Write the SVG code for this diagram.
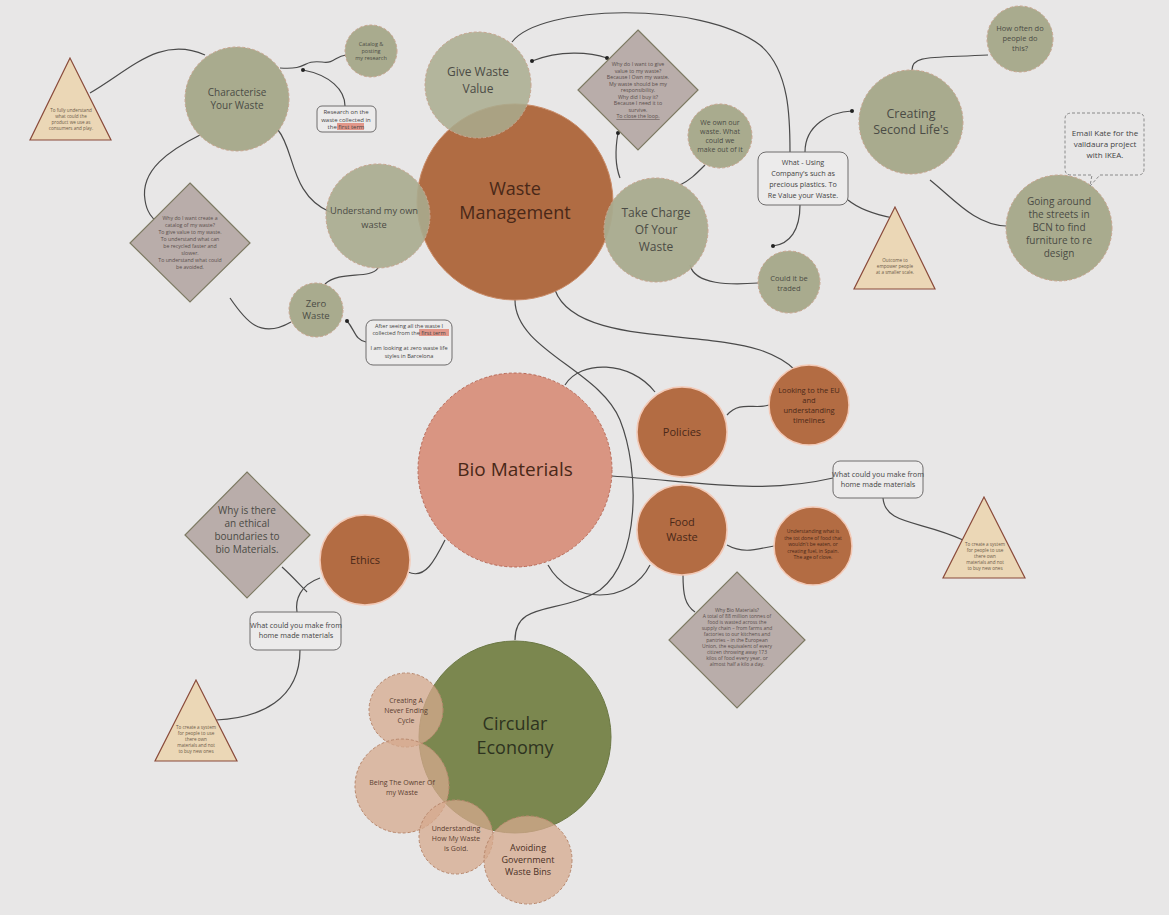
<svg xmlns="http://www.w3.org/2000/svg" width="1169" height="915" viewBox="0 0 1169 915">
<style>
text{font-family:"Open Sans","Liberation Sans",sans-serif;text-anchor:middle}
.sage{fill:#a9ab8e;stroke:#c8a58f;stroke-width:1;stroke-dasharray:3 2}
.org{fill:#b36c43;stroke:#f3c9b6;stroke-width:1.5}
.dia{fill:#b9adaa;stroke:#7d7a63;stroke-width:1.2}
.tri{fill:#ebd7b6;stroke:#8a4b3b;stroke-width:1.2}
.note{fill:#ecebeb;stroke:#6e6c6c;stroke-width:1}
.tan{fill:#d5a98e;fill-opacity:.75;stroke:#b8876c;stroke-width:1;stroke-dasharray:3 2}
.st{fill:#4b4b45}
.ot{fill:#4a2818}
.dt{fill:#5a4f4c}
.tt{fill:#6b5a48;font-size:4.6px}
.nt{fill:#444}
.cn path{fill:none;stroke:#4a4a4a;stroke-width:1.2}
.dot{fill:#222}
</style>
<rect width="1169" height="915" fill="#e8e7e7"/>

<g id="connectors" class="cn">
<path d="M90,93 C130,70 160,35 205,55"/>
<path d="M280,68 C310,70 300,60 322,62 C335,64 335,56 346,55"/>
<path d="M303,70 C330,75 345,90 345,106"/>
<path d="M200,135 C170,150 140,170 145,200 C147,215 155,220 160,225"/>
<path d="M278,130 C295,150 290,195 330,212"/>
<path d="M230,298 C245,320 260,340 291,322"/>
<path d="M378,268 C370,280 340,270 325,284"/>
<path d="M347,321 C355,330 355,340 366,342"/>
<path d="M532,61 C560,50 590,52 607,58"/>
<path d="M512,42 C540,5 700,0 760,45 C790,70 790,120 790,152"/>
<path d="M618,133 C615,150 615,165 620,178"/>
<path d="M705,165 C695,175 690,180 680,185"/>
<path d="M805,152 C805,125 830,112 852,111"/>
<path d="M800,205 C800,230 790,244 773,246"/>
<path d="M848,200 C860,210 878,215 893,218"/>
<path d="M690,265 C695,285 730,285 758,283"/>
<path d="M912,70 C912,55 930,58 988,55"/>
<path d="M930,180 C955,200 975,225 1006,226"/>
<path d="M555,290 C575,345 700,330 760,350 C780,357 790,365 795,370"/>
<path d="M515,300 C515,350 600,370 620,420 C640,470 640,560 600,590 C560,615 515,600 515,640"/>
<path d="M565,385 C580,360 630,360 655,392"/>
<path d="M727,415 C740,400 755,410 769,405"/>
<path d="M612,476 C700,482 760,495 833,478"/>
<path d="M883,498 C885,525 920,520 963,540"/>
<path d="M548,565 C570,605 630,605 650,565"/>
<path d="M727,545 C745,555 760,548 774,546"/>
<path d="M683,575 C683,595 685,605 695,612"/>
<path d="M445,540 C435,560 425,580 408,572"/>
<path d="M320,578 C300,585 295,600 297,612"/>
<path d="M282,567 C292,576 300,585 307,592"/>
<path d="M300,650 C300,700 260,718 216,720"/>
<circle class="dot" cx="303" cy="70" r="2"/>
<circle class="dot" cx="347" cy="321" r="2"/>
<circle class="dot" cx="532" cy="61" r="2"/>
<circle class="dot" cx="607" cy="58" r="2"/>
<circle class="dot" cx="618" cy="133" r="2"/>
<circle class="dot" cx="852" cy="111" r="2"/>
<circle class="dot" cx="773" cy="246" r="2"/>
</g>

<g id="tri-top-left"><polygon class="tri" points="70,58 30,140 111,140"/>
<text class="tt"><tspan x="71" y="112">To fully understand</tspan><tspan x="71" y="118">what could the</tspan><tspan x="71" y="124">product we use as</tspan><tspan x="71" y="130">consumers and play.</tspan></text></g>

<g id="characterise"><circle class="sage" cx="237" cy="99" r="52"/>
<text class="st" font-size="10"><tspan x="237" y="96">Characterise</tspan><tspan x="237" y="109">Your Waste</tspan></text></g>

<g id="catalog"><circle class="sage" cx="371" cy="51" r="26"/>
<text class="st" font-size="5.5" fill="#6a6a58"><tspan x="371" y="46">Catalog &amp;</tspan><tspan x="371" y="53">posting</tspan><tspan x="371" y="60">my research</tspan></text></g>

<g id="research-note"><rect class="note" x="317" y="106" width="59" height="26" rx="5"/>
<rect x="337" y="123" width="27" height="7" fill="#e2978a"/>
<text class="nt" font-size="6"><tspan x="346" y="114">Research on the</tspan><tspan x="346" y="121.5">waste collected in</tspan><tspan x="346" y="129">the first term</tspan></text></g>

<g id="diamond-left"><polygon class="dia" points="190,183 250,243 190,302 130,243"/>
<text class="dt" font-size="5.2"><tspan x="190" y="220">Why do I want create a</tspan><tspan x="190" y="227">catalog of my waste?</tspan><tspan x="190" y="234">To give value to my waste.</tspan><tspan x="190" y="241">To understand what can</tspan><tspan x="190" y="248">be recycled faster and</tspan><tspan x="190" y="255">slower.</tspan><tspan x="190" y="262">To understand what could</tspan><tspan x="190" y="269">be avoided.</tspan></text></g>

<g id="waste-management"><circle cx="515" cy="202" r="98" fill="#b06c43" stroke="#c98a66" stroke-width="1"/>
<text class="ot" font-size="18"><tspan x="515" y="195">Waste</tspan><tspan x="515" y="219">Management</tspan></text></g>

<g id="give-waste-value"><circle class="sage" cx="478" cy="85" r="53" fill-opacity=".85"/>
<text class="st" font-size="12"><tspan x="478" y="76">Give Waste</tspan><tspan x="478" y="93">Value</tspan></text></g>

<g id="understand"><circle class="sage" cx="378" cy="216" r="52" fill-opacity=".9"/>
<text class="st" font-size="9.3"><tspan x="374" y="214">Understand my own</tspan><tspan x="374" y="228">waste</tspan></text></g>

<g id="zero-waste"><circle class="sage" cx="316" cy="310" r="27"/>
<text class="st" font-size="9.5"><tspan x="316" y="307">Zero</tspan><tspan x="316" y="319">Waste</tspan></text></g>

<g id="after-note"><rect class="note" x="366" y="320" width="86" height="45" rx="7"/>
<rect x="419" y="329" width="30" height="7" fill="#e2978a"/>
<text class="nt" font-size="5.6"><tspan x="409" y="328">After seeing all the waste I</tspan><tspan x="409" y="335">collected from the first term</tspan><tspan x="409" y="350">I am looking at zero waste life</tspan><tspan x="409" y="357.5">styles in Barcelona</tspan></text></g>

<g id="diamond-top"><polygon class="dia" points="638,30 698,90 638,150 578,90"/>
<text class="dt" font-size="5.3"><tspan x="638" y="66">Why do I want to give</tspan><tspan x="638" y="72.5">value to my waste?</tspan><tspan x="638" y="79">Because I Own my waste.</tspan><tspan x="638" y="85.5">My waste should be my</tspan><tspan x="638" y="92">responsibility.</tspan><tspan x="638" y="98.5">Why did I buy it?</tspan><tspan x="638" y="105">Because I need it to</tspan><tspan x="638" y="111.5">survive.</tspan><tspan x="638" y="118" text-decoration="underline">To close the loop.</tspan></text></g>

<g id="we-own"><circle class="sage" cx="720" cy="136" r="32"/>
<text class="st" font-size="7"><tspan x="720" y="125">We own our</tspan><tspan x="720" y="134">waste. What</tspan><tspan x="720" y="143">could we</tspan><tspan x="720" y="152">make out of it</tspan></text></g>

<g id="take-charge"><circle class="sage" cx="656" cy="230" r="52" fill-opacity=".95"/>
<text class="st" font-size="12"><tspan x="656" y="217">Take Charge</tspan><tspan x="656" y="234">Of Your</tspan><tspan x="656" y="251">Waste</tspan></text></g>

<g id="what-using"><rect class="note" x="758" y="152" width="90" height="53" rx="8"/>
<text class="nt" font-size="7.2"><tspan x="803" y="165">What - Using</tspan><tspan x="803" y="176">Company's such as</tspan><tspan x="803" y="187">precious plastics. To</tspan><tspan x="803" y="198">Re Value your Waste.</tspan></text></g>

<g id="could-traded"><circle class="sage" cx="789" cy="282" r="31"/>
<text class="st" font-size="7.5"><tspan x="789" y="281">Could it be</tspan><tspan x="789" y="291">traded</tspan></text></g>

<g id="tri-outcome"><polygon class="tri" points="895,207 854,289 935,289"/>
<text class="tt"><tspan x="895" y="262">Outcome to</tspan><tspan x="895" y="268">empower people</tspan><tspan x="895" y="274">at a smaller scale.</tspan></text></g>

<g id="creating-second"><circle class="sage" cx="911" cy="122" r="52"/>
<text class="st" font-size="12.5"><tspan x="911" y="118">Creating</tspan><tspan x="911" y="134">Second Life's</tspan></text></g>

<g id="how-often"><circle class="sage" cx="1020" cy="39" r="33"/>
<text class="st" font-size="7.5"><tspan x="1020" y="31">How often do</tspan><tspan x="1020" y="41">people do</tspan><tspan x="1020" y="51">this?</tspan></text></g>

<g id="going-around"><circle class="sage" cx="1059" cy="228" r="53"/>
<text class="st" font-size="10"><tspan x="1059" y="205">Going around</tspan><tspan x="1059" y="218">the streets in</tspan><tspan x="1059" y="231">BCN to find</tspan><tspan x="1059" y="244">furniture to re</tspan><tspan x="1059" y="257">design</tspan></text></g>

<g id="email-kate"><path d="M1072,113 H1138 Q1144,113 1144,119 V169 Q1144,175 1138,175 H1100 L1090,186 L1092,175 H1071 Q1065,175 1065,169 V119 Q1065,113 1072,113 Z" fill="#e8e7e7" stroke="#8a8a8a" stroke-width="1" stroke-dasharray="3 2"/>
<text class="nt" font-size="8"><tspan x="1105" y="136">Email Kate for the</tspan><tspan x="1105" y="147">valldaura project</tspan><tspan x="1105" y="158">with IKEA.</tspan></text></g>

<g id="bio-materials"><circle cx="515" cy="470" r="97" fill="#d99582" stroke="#b96a58" stroke-width="1" stroke-dasharray="3 2"/>
<text class="ot" font-size="19" fill="#4a2a20"><tspan x="515" y="476">Bio Materials</tspan></text></g>

<g id="policies"><circle class="org" cx="682" cy="432" r="45"/>
<text class="ot" font-size="11"><tspan x="682" y="436">Policies</tspan></text></g>

<g id="looking-eu"><circle class="org" cx="809" cy="405" r="40"/>
<text class="ot" font-size="7.5"><tspan x="809" y="393">Looking to the EU</tspan><tspan x="809" y="403">and</tspan><tspan x="809" y="413">understanding</tspan><tspan x="809" y="423">timelines</tspan></text></g>

<g id="what-make-right"><rect class="note" x="833" y="461" width="90" height="37" rx="7"/>
<text class="nt" font-size="7.3"><tspan x="878" y="477">What could you make from</tspan><tspan x="878" y="487">home made materials</tspan></text></g>

<g id="food-waste"><circle class="org" cx="682" cy="530" r="45"/>
<text class="ot" font-size="11"><tspan x="682" y="526">Food</tspan><tspan x="682" y="541">Waste</tspan></text></g>

<g id="understanding-food"><circle class="org" cx="813" cy="546" r="39"/>
<text class="ot" font-size="5"><tspan x="813" y="533">Understanding what is</tspan><tspan x="813" y="539.5">the tot done of food that</tspan><tspan x="813" y="546">wouldn't be eaten, or</tspan><tspan x="813" y="552.5">creating fuel, in Spain.</tspan><tspan x="813" y="559">The age of clove.</tspan></text></g>

<g id="tri-right"><polygon class="tri" points="984,497 943,578 1025,578"/>
<text class="tt"><tspan x="985" y="546">To create a system</tspan><tspan x="985" y="552">for people to use</tspan><tspan x="985" y="558">there own</tspan><tspan x="985" y="564">materials and not</tspan><tspan x="985" y="570">to buy new ones</tspan></text></g>

<g id="diamond-bottom"><polygon class="dia" points="737,572 805,640 737,708 669,640"/>
<text class="dt" font-size="5"><tspan x="737" y="612">Why Bio Materials?</tspan><tspan x="737" y="618">A total of 88 million tonnes of</tspan><tspan x="737" y="624">food is wasted across the</tspan><tspan x="737" y="630">supply chain – from farms and</tspan><tspan x="737" y="636">factories to our kitchens and</tspan><tspan x="737" y="642">pantries – in the European</tspan><tspan x="737" y="648">Union, the equivalent of every</tspan><tspan x="737" y="654">citizen throwing away 173</tspan><tspan x="737" y="660">kilos of food every year, or</tspan><tspan x="737" y="666">almost half a kilo a day.</tspan></text></g>

<g id="ethics-diamond"><polygon class="dia" points="247,472 310,535 247,598 185,535"/>
<text class="st" font-size="10" fill="#4a3f3c"><tspan x="247" y="514">Why is there</tspan><tspan x="247" y="527">an ethical</tspan><tspan x="247" y="540">boundaries to</tspan><tspan x="247" y="553">bio Materials.</tspan></text></g>

<g id="ethics"><circle class="org" cx="365" cy="560" r="45"/>
<text class="ot" font-size="11"><tspan x="365" y="564">Ethics</tspan></text></g>

<g id="what-make-left"><rect class="note" x="250" y="612" width="91" height="38" rx="7"/>
<text class="nt" font-size="7.3"><tspan x="296" y="628">What could you make from</tspan><tspan x="296" y="638">home made materials</tspan></text></g>

<g id="tri-bottom-left"><polygon class="tri" points="196,680 155,761 237,761"/>
<text class="tt"><tspan x="196" y="729">To create a system</tspan><tspan x="196" y="735">for people to use</tspan><tspan x="196" y="741">there own</tspan><tspan x="196" y="747">materials and not</tspan><tspan x="196" y="753">to buy new ones</tspan></text></g>

<g id="circular-economy"><circle cx="515" cy="737" r="96" fill="#7b874f" stroke="#6c7845" stroke-width="1"/>
<text font-size="18" fill="#2e3320"><tspan x="515" y="730">Circular</tspan><tspan x="515" y="754">Economy</tspan></text></g>

<g id="never-ending"><circle class="tan" cx="406" cy="710" r="37"/>
<text font-size="7" fill="#5a4030"><tspan x="406" y="703">Creating A</tspan><tspan x="406" y="713">Never Ending</tspan><tspan x="406" y="723">Cycle</tspan></text></g>

<g id="owner"><circle class="tan" cx="402" cy="786" r="47"/>
<text font-size="7" fill="#5a4030"><tspan x="402" y="785">Being The Owner Of</tspan><tspan x="402" y="795">my Waste</tspan></text></g>

<g id="gold"><circle class="tan" cx="456" cy="837" r="37"/>
<text font-size="7" fill="#5a4030"><tspan x="456" y="831">Understanding</tspan><tspan x="456" y="841">How My Waste</tspan><tspan x="456" y="851">is Gold.</tspan></text></g>

<g id="avoiding"><circle class="tan" cx="528" cy="860" r="44"/>
<text font-size="9" fill="#4a3024"><tspan x="528" y="851">Avoiding</tspan><tspan x="528" y="863">Government</tspan><tspan x="528" y="875">Waste Bins</tspan></text></g>
</svg>
